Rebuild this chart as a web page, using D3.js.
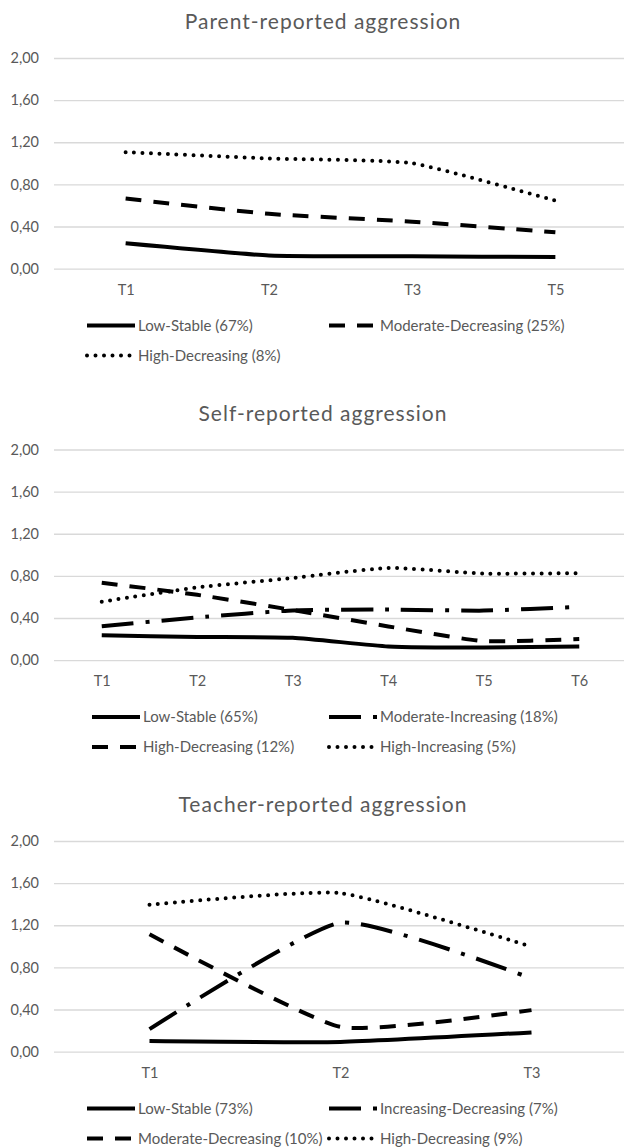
<!DOCTYPE html>
<html>
<head>
<meta charset="utf-8">
<script src="https://cdn.jsdelivr.net/npm/d3@7"></script>
<style>
  body { margin: 0; background: #fff; }
  svg { display: block; font-family: Lato, "Open Sans", sans-serif; }
</style>
</head>
<body>
<svg id="chart" width="624" height="1147"></svg>
<script>
"use strict";

// Time points per panel
const parentTimes = ["T1", "T2", "T3", "T5"],
  selfTimes = ["T1", "T2", "T3", "T4", "T5", "T6"],
  teacherTimes = ["T1", "T2", "T3"];

// Parent-reported trajectories
const parentLowStable = [0.24, 0.125, 0.117, 0.11],
  parentModDecreasing = [0.665, 0.52, 0.446, 0.345],
  parentHighDecreasing = [1.105, 1.046, 1.0, 0.645];

// Self-reported trajectories
const selfLowStable = [0.235, 0.22, 0.212, 0.13, 0.12, 0.13],
  selfModIncreasing = [0.322, 0.405, 0.472, 0.48, 0.47, 0.505],
  selfHighDecreasing = [0.735, 0.62, 0.475, 0.32, 0.18, 0.2],
  selfHighIncreasing = [0.555, 0.69, 0.78, 0.875, 0.822, 0.826];

// Teacher-reported trajectories
const teacherLowStable = [0.1, 0.092, 0.182],
  teacherIncDecreasing = [0.213, 1.225, 0.695],
  teacherModDecreasing = [1.115, 0.235, 0.394],
  teacherHighDecreasing = [1.394, 1.505, 0.995];

const yTicks = [0, 0.4, 0.8, 1.2, 1.6, 2.0];

// line styles as used in the original spreadsheet charts
const dashStyles = {
  solid: { dash: null, cap: "butt" },
  dash: { dash: "16,12", cap: "butt" },
  longDashDot: { dash: "32,12,4,12", cap: "butt" },
  roundDot: { dash: "0,8.5", cap: "round" },
};

const panels = [
  {
    title: "Parent-reported aggression",
    times: parentTimes,
    top: 58,
    legendX: [87, 329],
    series: [
      { name: "Low-Stable (67%)", values: parentLowStable, style: "solid" },
      { name: "Moderate-Decreasing (25%)", values: parentModDecreasing, style: "dash" },
      { name: "High-Decreasing (8%)", values: parentHighDecreasing, style: "roundDot" },
    ],
  },
  {
    title: "Self-reported aggression",
    times: selfTimes,
    top: 449.5,
    legendX: [92, 329],
    series: [
      { name: "Low-Stable (65%)", values: selfLowStable, style: "solid" },
      { name: "Moderate-Increasing (18%)", values: selfModIncreasing, style: "longDashDot" },
      { name: "High-Decreasing (12%)", values: selfHighDecreasing, style: "dash" },
      { name: "High-Increasing (5%)", values: selfHighIncreasing, style: "roundDot" },
    ],
  },
  {
    title: "Teacher-reported aggression",
    times: teacherTimes,
    top: 841,
    legendX: [87, 329],
    series: [
      { name: "Low-Stable (73%)", values: teacherLowStable, style: "solid" },
      { name: "Increasing-Decreasing (7%)", values: teacherIncDecreasing, style: "longDashDot" },
      { name: "Moderate-Decreasing (10%)", values: teacherModDecreasing, style: "dash" },
      { name: "High-Decreasing (9%)", values: teacherHighDecreasing, style: "roundDot" },
    ],
  },
];

const plotLeft = 54,
  plotRight = 627,
  plotHeight = 210.6,
  textColour = "#595959",
  gridColour = "#d9d9d9",
  lineWidth = 4,
  formatTick = (d) => d3.format(".2f")(d).replace(".", ",");

const svg = d3.select("#chart");

panels.forEach((panel) => {
  const g = svg.append("g").attr("transform", `translate(0,${panel.top})`);

  const x = d3.scalePoint().domain(panel.times).range([plotLeft, plotRight]).padding(0.5),
    y = d3.scaleLinear().domain([0, 2]).range([plotHeight, 0]);

  // Title
  g.append("text")
    .attr("x", 323)
    .attr("y", -36)
    .attr("dy", "0.35em")
    .attr("text-anchor", "middle")
    .attr("fill", textColour)
    .attr("font-size", 21)
    .attr("letter-spacing", 1)
    .text(panel.title);

  // Gridlines and y labels
  g.append("g")
    .call(d3.axisLeft(y).tickValues(yTicks).tickSize(-(624 - plotLeft)).tickFormat(formatTick))
    .attr("transform", `translate(${plotLeft},0)`)
    .call((a) => a.select(".domain").remove())
    .call((a) => a.selectAll(".tick line").attr("stroke", gridColour).attr("stroke-width", 1.3))
    .call((a) =>
      a.selectAll(".tick text")
        .attr("x", -15)
        .attr("fill", textColour)
        .attr("font-size", 14.5)
        .attr("font-family", "Lato, sans-serif")
    );

  // x labels
  g.append("g")
    .attr("transform", `translate(0,${plotHeight})`)
    .call(d3.axisBottom(x).tickSize(0).tickPadding(16))
    .call((a) => a.select(".domain").remove())
    .call((a) =>
      a.selectAll(".tick text")
        .attr("fill", textColour)
        .attr("font-size", 14.5)
        .attr("font-family", "Lato, sans-serif")
    );

  // mildly smoothed lines
  const line = d3
    .line()
    .x((d, i) => x(panel.times[i]))
    .y((d) => y(d))
    .curve(d3.curveCardinal.tension(0.5));

  // draw in reverse so the solid line stays on top like the original
  panel.series
    .slice()
    .reverse()
    .forEach((s) => {
      const st = dashStyles[s.style];
      g.append("path")
        .datum(s.values)
        .attr("fill", "none")
        .attr("stroke", "#000")
        .attr("stroke-width", lineWidth)
        .attr("stroke-linecap", st.cap)
        .attr("stroke-dasharray", st.dash)
        .attr("d", line);
    });

  // Legend (two columns)
  const legend = g.append("g").attr("transform", `translate(0,${plotHeight})`);
  panel.series.forEach((s, i) => {
    const st = dashStyles[s.style],
      lx = panel.legendX[i % 2],
      ly = 57 + Math.floor(i / 2) * 30;
    legend
      .append("line")
      .attr("x1", lx)
      .attr("x2", lx + 48)
      .attr("y1", ly)
      .attr("y2", ly)
      .attr("stroke", "#000")
      .attr("stroke-width", lineWidth)
      .attr("stroke-linecap", st.cap)
      .attr("stroke-dasharray", st.dash);
    legend
      .append("text")
      .attr("x", lx + 51)
      .attr("y", ly)
      .attr("dy", "0.35em")
      .attr("fill", textColour)
      .attr("font-size", 15)
      .text(s.name);
  });
});
</script>
</body>
</html>
